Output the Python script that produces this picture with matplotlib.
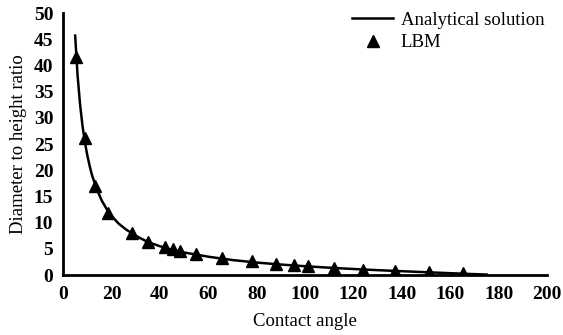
import matplotlib
matplotlib.use("Agg")
import matplotlib.pyplot as plt

# analytical curve
angle_curve = [5, 6, 7, 8, 9, 10, 11, 12, 14, 16, 18, 20, 23, 26, 30, 35, 40, 45,
               50, 60, 70, 80, 90, 100, 110, 120, 130, 140, 150, 160, 170, 175]
ratio_curve = [45.7, 38.1, 32.7, 28.6, 25.4, 22.9, 20.8, 19.0, 16.3, 14.2, 12.6, 11.3,
               9.8, 8.7, 7.5, 6.3, 5.5, 4.8, 4.3, 3.5, 2.86, 2.38, 2.0, 1.68, 1.40,
               1.15, 0.93, 0.73, 0.54, 0.35, 0.17, 0.09]

# LBM points
angle_lbm = [5.4, 9.1, 13.2, 18.5, 28.5, 35, 42, 45.5, 48.5, 55, 65.5, 78, 88,
             95.5, 101, 112, 124, 137, 151, 165]
ratio_lbm = [41.6, 26.1, 16.9, 11.9, 8.1, 6.4, 5.3, 4.9, 4.6, 4.0, 3.3, 2.6, 2.2,
             1.9, 1.8, 1.4, 1.0, 0.8, 0.5, 0.3]

xticks = [0, 20, 40, 60, 80, 100, 120, 140, 160, 180, 200]
yticks = [0, 5, 10, 15, 20, 25, 30, 35, 40, 45, 50]

plt.rcParams["font.family"] = ["Liberation Serif", "DejaVu Serif"]

fig = plt.figure(figsize=(5.63, 3.35), dpi=100)
ax = fig.add_axes([0.112, 0.179, 0.86, 0.782])

ax.plot(angle_curve, ratio_curve, color="black", lw=1.8, label="Analytical solution")
ax.plot(angle_lbm, ratio_lbm, ls="none", marker="^", ms=8, color="black", label="LBM")

ax.set_xlim(0, 200)
ax.set_ylim(0, 50)
ax.set_xticks(xticks)
ax.set_yticks(yticks)
ax.tick_params(length=0, labelsize=14)
ax.tick_params(axis="x", pad=8)
ax.tick_params(axis="y", pad=7)
for lab in ax.get_xticklabels() + ax.get_yticklabels():
    lab.set_fontweight("bold")
for s in ("top", "right"):
    ax.spines[s].set_visible(False)
for s in ("left", "bottom"):
    ax.spines[s].set_linewidth(2)

ax.set_xlabel("Contact angle", fontsize=13.5, labelpad=7)
ax.set_ylabel("Diameter to height ratio", fontsize=13.5, labelpad=5)

ax.legend(loc="upper right", bbox_to_anchor=(1.01, 1.035), frameon=False,
          fontsize=13.5, handlelength=2.2, handletextpad=0.4, labelspacing=0.3,
          borderaxespad=0)

fig.savefig("out.png", dpi=100)
